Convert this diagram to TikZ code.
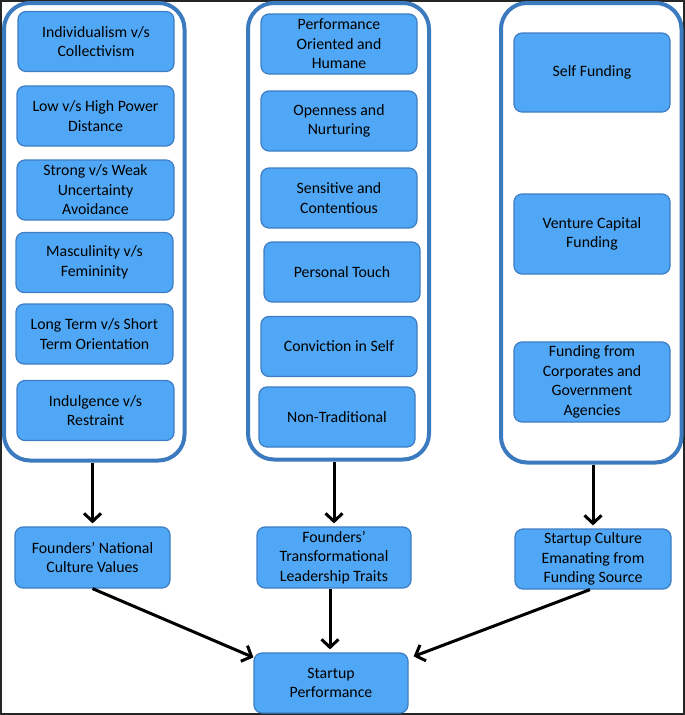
\documentclass[tikz,border=0pt]{standalone}
\usepackage{fontspec}
\setmainfont{Carlito}
\usetikzlibrary{arrows.meta}

\definecolor{boxfill}{RGB}{80,167,245}
\definecolor{boxline}{RGB}{62,125,196}
\definecolor{colline}{RGB}{60,122,192}

\tikzset{
  trait/.style={draw=boxline, fill=boxfill, line width=1.2pt, rounded corners=8pt,
    align=center, inner sep=0pt, minimum width=156pt, minimum height=60pt,
    font=\fontsize{15.8}{19.5}\selectfont},
  column/.style={draw=colline, line width=4pt, rounded corners=26pt, inner sep=0pt},
  flow/.style={-{Straight Barb[length=8pt,width=17pt]}, line width=3pt},
}

\begin{document}
\begin{tikzpicture}[x=1pt,y=-1pt]
\useasboundingbox (0,0) rectangle (685,715);
\draw[black!85, line width=1.5pt] (0.75,0.75) rectangle (684,714);

% the three columns
\node[column, minimum width=180.5pt, minimum height=457.5pt] (lcol) at (94.25,231.75) {};
\node[column, minimum width=181pt, minimum height=456.5pt] (mcol) at (338.5,231.25) {};
\node[column, minimum width=180.5pt, minimum height=459.5pt] (rcol) at (591.25,232.75) {};

% national culture
\node[trait] (ind) at (96,41.5) {Individualism v/s\\Collectivism};
\node[trait, minimum width=157pt] (pow) at (95.5,116) {Low v/s High Power\\Distance};
\node[trait, minimum width=157pt] (unc) at (95.5,190) {Strong v/s Weak\\Uncertainty\\Avoidance};
\node[trait, minimum width=157pt] (mas) at (94.5,262.5) {Masculinity v/s\\Femininity};
\node[trait, minimum width=157pt] (lon) at (94.5,334) {Long Term v/s Short\\Term Orientation};
\node[trait, minimum width=157pt] (ilg) at (95.5,410.5) {Indulgence v/s\\Restraint};

% leadership traits
\node[trait] (prf) at (339,44) {Performance\\Oriented and\\Humane};
\node[trait] (opn) at (339,121) {Openness and\\Nurturing};
\node[trait] (sns) at (339,198) {Sensitive and\\Contentious};
\node[trait] (tch) at (342,272) {Personal Touch};
\node[trait] (cnv) at (339,346.5) {Conviction in Self};
\node[trait] (ntr) at (337,417) {Non-Traditional};

% funding
\node[trait, minimum height=79pt] (slf) at (592,72.5) {Self Funding};
\node[trait, minimum height=80pt] (vcf) at (592,234) {Venture Capital\\Funding};
\node[trait, minimum height=80pt] (gov) at (592,382) {Funding from\\Corporates and\\Government\\Agencies};

% middle row
\node[trait, minimum width=155pt, minimum height=61pt] (fn) at (92.5,557.5) {Founders' National\\Culture Values};
\node[trait, minimum width=154pt, minimum height=61pt] (ft) at (334,557.5) {Founders'\\Transformational\\Leadership Traits};
\node[trait] (sc) at (593,559) {Startup Culture\\Emanating from\\Funding Source};

\node[trait, minimum width=154pt] (sp) at (331,683) {Startup\\Performance};

\draw[flow] (lcol.south -| fn.north) -- ([yshift=3pt]fn.north);
\draw[flow] (mcol.south -| ft.north) -- ([yshift=3pt]ft.north);
\draw[flow] (rcol.south -| sc.north) -- ([yshift=3pt]sc.north);

\draw[flow] (fn.south) -- ([yshift=-5pt]sp.north west);
\draw[flow] ([xshift=-4pt]ft.south) -- ([xshift=-1pt,yshift=3pt]sp.north);
\draw[flow] ([xshift=-3pt]sc.south) -- ([xshift=5pt,yshift=-4pt]sp.north east);
\end{tikzpicture}
\end{document}
